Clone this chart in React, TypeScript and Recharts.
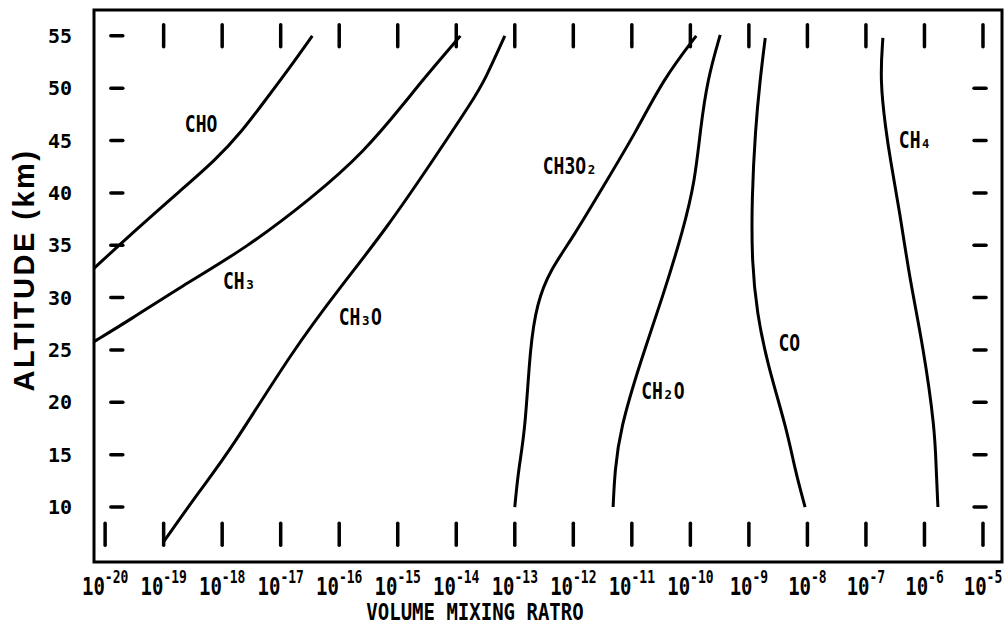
// Vertical profiles of CH4 oxidation species: altitude vs volume mixing ratio
// (x values are log10 of the mixing ratio).

import { ComposedChart, Line, Scatter, XAxis, YAxis, ReferenceArea } from "recharts";

const DECADES = [-20, -19, -18, -17, -16, -15, -14, -13, -12, -11, -10, -9, -8, -7, -6, -5];
const ALTITUDE_TICKS = [10, 15, 20, 25, 30, 35, 40, 45, 50, 55];

// [log10 VMR, altitude km]
const CHO = [[-20.19, 32.8], [-19.45, 36.6], [-18.72, 40.2], [-18.12, 43.1], [-17.66, 45.9], [-17.27, 48.8], [-16.84, 52.0], [-16.46, 55.0]];
const CH3 = [[-20.19, 25.8], [-19.57, 27.9], [-18.72, 31.0], [-17.57, 34.8], [-16.45, 39.6], [-15.59, 43.8], [-14.84, 48.9], [-14.57, 50.8], [-13.93, 55.0]];
const CH3O = [[-19.01, 6.6], [-18.38, 11.6], [-17.86, 15.4], [-16.79, 25.0], [-15.98, 31.0], [-15.18, 36.7], [-14.4, 43.1], [-13.71, 48.9], [-13.51, 50.8], [-13.17, 55.0]];
const CH3O2 = [[-13.0, 10], [-12.94, 13.5], [-12.82, 17.4], [-12.74, 25.3], [-12.62, 29.5], [-12.4, 32.6], [-12.0, 35.8], [-11.49, 40.6], [-10.91, 46.0], [-10.47, 50.8], [-9.9, 55.0]];
const CH2O = [[-11.32, 10], [-11.29, 13.5], [-11.2, 17.4], [-10.86, 23.8], [-10.47, 30.1], [-10.12, 36.5], [-9.92, 41.2], [-9.83, 46.0], [-9.71, 50.8], [-9.49, 55.1]];
const CO = [[-8.04, 10], [-8.21, 13.5], [-8.35, 17.4], [-8.69, 23.8], [-8.86, 28.5], [-8.95, 33.3], [-8.95, 39.6], [-8.89, 46.0], [-8.81, 50.8], [-8.72, 54.8]];
const CH4 = [[-5.77, 10], [-5.8, 13.5], [-5.82, 17.4], [-6.02, 25.3], [-6.25, 31.7], [-6.42, 38.1], [-6.59, 43.4], [-6.66, 46.0], [-6.76, 50.8], [-6.71, 54.8]];

const SPECIES_NAMES = ["CHO", "CH₃", "CH₃O", "CH3O₂", "CH₂O", "CO", "CH₄"];
const LABEL_SPOTS = [[-18.36, 46.6], [-17.71, 31.6], [-15.64, 28.15], [-12.06, 42.5], [-10.47, 21.1], [-8.31, 25.6], [-6.16, 45.05]];

const X_DOMAIN = [-20.19, -4.675];
const Y_DOMAIN = [4.75, 57.47];
const MONO = "'DejaVu Sans Mono', 'Liberation Mono', monospace";

const toPts = (arr: number[][]) => arr.map(([logVmr, alt]) => ({ logVmr, alt }));
const curves = [CHO, CH3, CH3O, CH3O2, CH2O, CO, CH4].map(toPts);
const labels = SPECIES_NAMES.map((name, i) => ({ logVmr: LABEL_SPOTS[i][0], alt: LABEL_SPOTS[i][1], name }));

// frame tick marks drawn inside the box
const topTicks = DECADES.slice(1).map((e) => ({ logVmr: e, alt: 55 }));
const bottomTicks = DECADES.map((e) => ({ logVmr: e, alt: 7.4 }));
const leftDashes = ALTITUDE_TICKS.map((a) => ({ logVmr: -19.8, alt: a }));
const rightDashes = ALTITUDE_TICKS.filter((a) => a < 55).map((a) => ({ logVmr: -5.05, alt: a }));

const VTick = (p: any) => (
  <line x1={p.cx} x2={p.cx} y1={p.cy - 11} y2={p.cy + 11} stroke="#000" strokeWidth={3.5} strokeLinecap="round" />
);
const HDash = (p: any) => (
  <line x1={p.cx - 6} x2={p.cx + 6} y1={p.cy} y2={p.cy} stroke="#000" strokeWidth={3.5} strokeLinecap="round" />
);
const SpeciesLabel = (p: any) => (
  <g transform={`translate(${p.cx},${p.cy}) scale(1,1.25)`}>
    <text textAnchor="middle" dominantBaseline="central" fontFamily={MONO} fontWeight="bold" fontSize={18} fill="#000">
      {p.payload.name}
    </text>
  </g>
);

function DecadeTick({ x, y, payload }: any) {
  return (
    <g transform={`translate(${x},${y + 33}) scale(1,1.3)`}>
      <text textAnchor="middle" fontFamily={MONO} fontWeight="bold" fontSize={19} fill="#000">
        10<tspan fontSize={13} dy={-9}>{`-${Math.abs(payload.value)}`}</tspan>
      </text>
    </g>
  );
}

function AltTick({ x, y, payload }: any) {
  return (
    <text x={x - 22} y={y} textAnchor="end" dominantBaseline="central" fontFamily={MONO} fontWeight="bold" fontSize={20} fill="#000">
      {payload.value}
    </text>
  );
}

export default function App() {
  return (
    <div style={{ position: "absolute", left: 0, top: 0, background: "#fff" }}>
      <ComposedChart width={1007} height={630} margin={{ top: 10, right: 5, left: 0, bottom: 0 }}>
        <XAxis
          type="number"
          dataKey="logVmr"
          domain={X_DOMAIN}
          allowDataOverflow
          ticks={DECADES}
          interval={0}
          height={68}
          tickLine={false}
          axisLine={false}
          tickSize={0}
          tickMargin={0}
          tick={<DecadeTick />}
        />
        <YAxis
          type="number"
          dataKey="alt"
          domain={Y_DOMAIN}
          allowDataOverflow
          ticks={ALTITUDE_TICKS}
          interval={0}
          width={94}
          tickLine={false}
          axisLine={false}
          tickSize={0}
          tickMargin={0}
          tick={<AltTick />}
        />
        <ReferenceArea
          x1={X_DOMAIN[0]}
          x2={X_DOMAIN[1]}
          y1={Y_DOMAIN[0]}
          y2={Y_DOMAIN[1]}
          fill="none"
          stroke="#000"
          strokeWidth={3}
        />
        {curves.map((d, i) => (
          <Line
            key={SPECIES_NAMES[i]}
            data={d}
            dataKey="alt"
            type="basis"
            stroke="#000"
            strokeWidth={3}
            dot={false}
            isAnimationActive={false}
          />
        ))}
        <Scatter data={topTicks} shape={VTick} isAnimationActive={false} />
        <Scatter data={bottomTicks} shape={VTick} isAnimationActive={false} />
        <Scatter data={leftDashes} shape={HDash} isAnimationActive={false} />
        <Scatter data={rightDashes} shape={HDash} isAnimationActive={false} />
        <Scatter data={labels} shape={SpeciesLabel} isAnimationActive={false} />
        <text x={24} y={270} transform="rotate(-90 24 270)" textAnchor="middle" dominantBaseline="central"
          fontFamily="'Liberation Sans', Arial, sans-serif" fontWeight="bold" fontSize={29} letterSpacing={2.5} fill="#000">
          ALTITUDE (km)
        </text>
        <g transform="translate(475,620) scale(1,1.22)">
          <text textAnchor="middle" fontFamily={MONO} fontWeight="bold" fontSize={19} fill="#000">
            VOLUME MIXING RATRO
          </text>
        </g>
      </ComposedChart>
    </div>
  );
}
